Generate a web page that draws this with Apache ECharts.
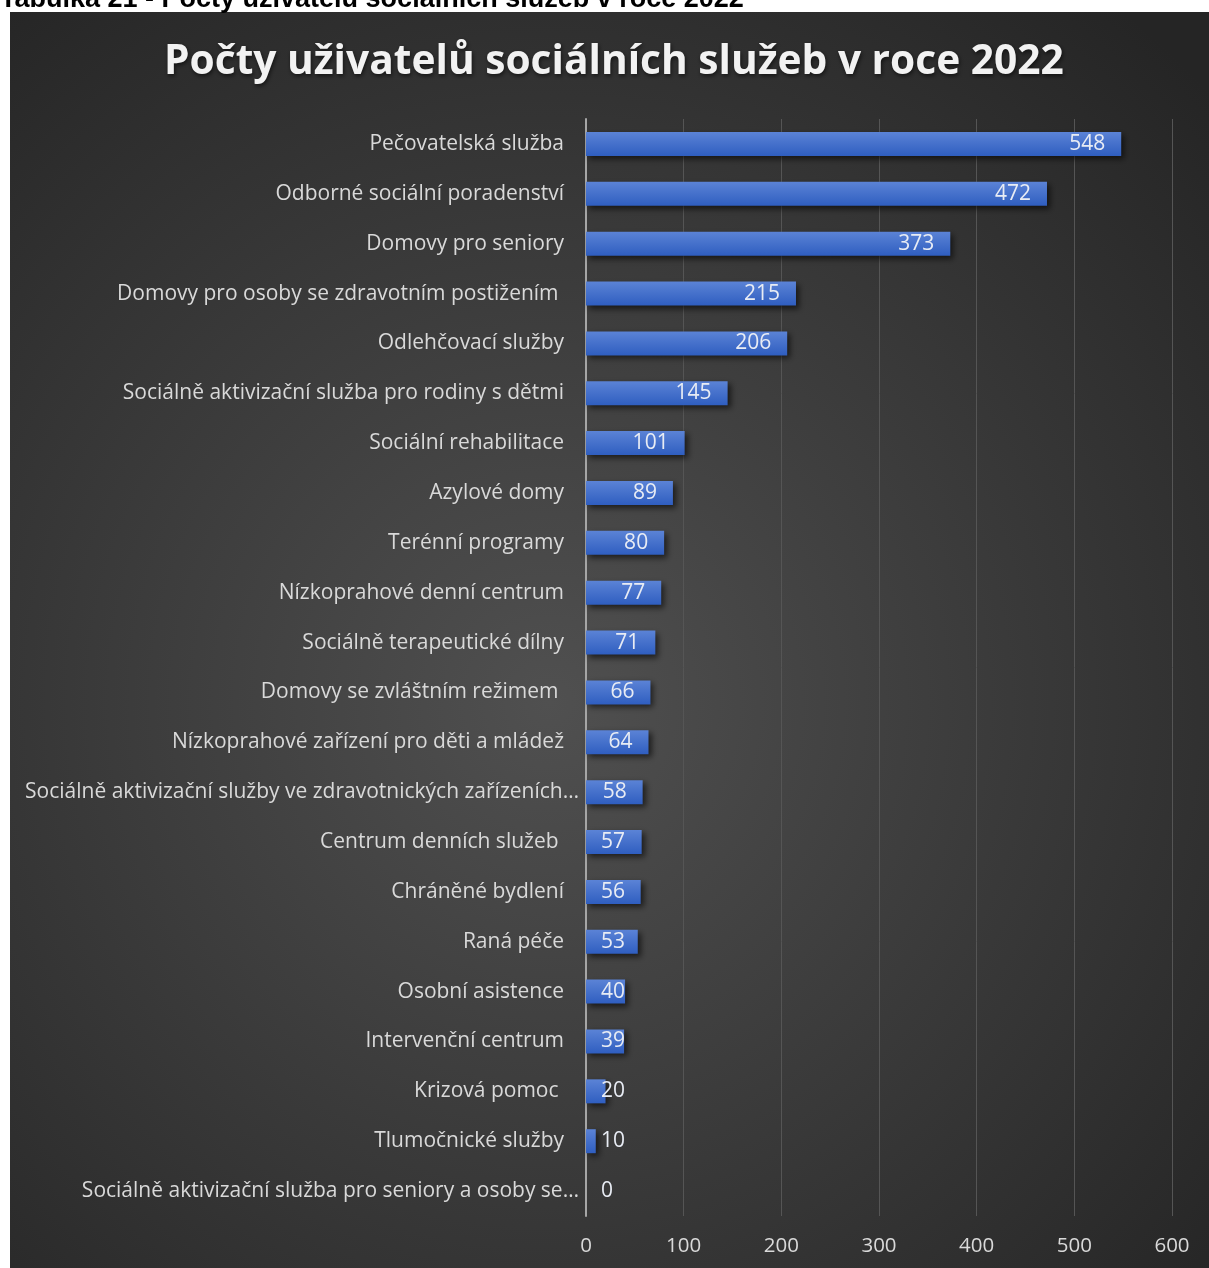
<!DOCTYPE html>
<html>
<head>
<meta charset="utf-8">
<script src="https://cdn.jsdelivr.net/npm/echarts@6/dist/echarts.min.js"></script>
<style>
html,body{margin:0;padding:0;background:#fff;}
#c{width:1209px;height:1268px;}
</style>
</head>
<body>
<div id="c"></div>
<script>
const caption = 'Tabulka 21 - Počty uživatelů sociálních služeb v roce 2022';
const chartTitle = 'Počty uživatelů sociálních služeb v roce 2022';
const categories = [
  'Pečovatelská služba',
  'Odborné sociální poradenství',
  'Domovy pro seniory',
  'Domovy pro osoby se zdravotním postižením ',
  'Odlehčovací služby',
  'Sociálně aktivizační služba pro rodiny s dětmi',
  'Sociální rehabilitace',
  'Azylové domy',
  'Terénní programy',
  'Nízkoprahové denní centrum',
  'Sociálně terapeutické dílny',
  'Domovy se zvláštním režimem ',
  'Nízkoprahové zařízení pro děti a mládež',
  'Sociálně aktivizační služby ve zdravotnických zařízeních…',
  'Centrum denních služeb ',
  'Chráněné bydlení',
  'Raná péče',
  'Osobní asistence',
  'Intervenční centrum',
  'Krizová pomoc ',
  'Tlumočnické služby',
  'Sociálně aktivizační služba pro seniory a osoby se…'
];
const values = [548, 472, 373, 215, 206, 145, 101, 89, 80, 77, 71, 66, 64, 58, 57, 56, 53, 40, 39, 20, 10, 0];
const xTicks = [0, 100, 200, 300, 400, 500, 600];

const FONT = '"Open Sans", "Noto Sans", sans-serif';
const chart = echarts.init(document.getElementById('c'));

const catData = categories.map(c => c.endsWith('…')
  ? {value: c, textStyle: {padding: [0, -15, 0, 0]}}
  : c);

const barData = values.map(v => ({
  value: v,
  label: v < 58
    ? {position: 'insideLeft', distance: 15}
    : {position: 'insideRight', distance: 16}
}));

chart.setOption({
  animation: false,
  graphic: [
    {
      type: 'rect', z: -10, silent: true,
      shape: {x: 10, y: 12, width: 1199, height: 1256},
      style: {
        fill: new echarts.graphic.RadialGradient(0.45, 0.55, 0.75, [
          {offset: 0, color: '#505050'},
          {offset: 1, color: '#252525'}
        ])
      }
    },
    {
      type: 'text', z: 10, silent: true,
      style: {x: 0, y: 13, verticalAlign: 'bottom', text: caption,
        font: 'bold 27px "Liberation Sans", Arial, sans-serif', fill: '#000'}
    }
  ],
  title: {
    text: chartTitle,
    left: 159, top: 37,
    textStyle: {
      fontFamily: FONT, fontWeight: 'bold', fontSize: 40.7, color: '#f2f2f2',
      textShadowColor: 'rgba(0,0,0,0.6)', textShadowBlur: 4, textShadowOffsetX: 1, textShadowOffsetY: 2
    }
  },
  grid: {left: 586, right: 37, top: 119, bottom: 52, containLabel: false},
  xAxis: {
    type: 'value', min: 0, max: 600, interval: 100,
    axisLine: {show: false}, axisTick: {show: false},
    splitLine: {show: true, lineStyle: {color: '#555555', width: 1}},
    axisLabel: {color: '#d9d9d9', fontFamily: FONT, fontSize: 20.5, margin: 20,
      formatter: v => xTicks.includes(v) ? String(v) : ''}
  },
  yAxis: {
    type: 'category', data: catData, inverse: true,
    axisLine: {show: true, lineStyle: {color: '#a6a6a6', width: 2}},
    axisTick: {show: false},
    axisLabel: {color: '#d9d9d9', fontFamily: FONT, fontSize: 21, margin: 22, interval: 0}
  },
  series: [{
    type: 'bar', data: barData, barWidth: 24,
    itemStyle: {
      color: new echarts.graphic.LinearGradient(0, 0, 0, 1, [
        {offset: 0, color: '#5b83d6'},
        {offset: 1, color: '#2f5ec0'}
      ]),
      shadowColor: 'rgba(0,0,0,0.6)', shadowBlur: 6, shadowOffsetX: 3, shadowOffsetY: 3
    },
    label: {show: true, color: '#e8ecf4', fontFamily: FONT, fontSize: 21}
  }]
});
</script>
</body>
</html>
